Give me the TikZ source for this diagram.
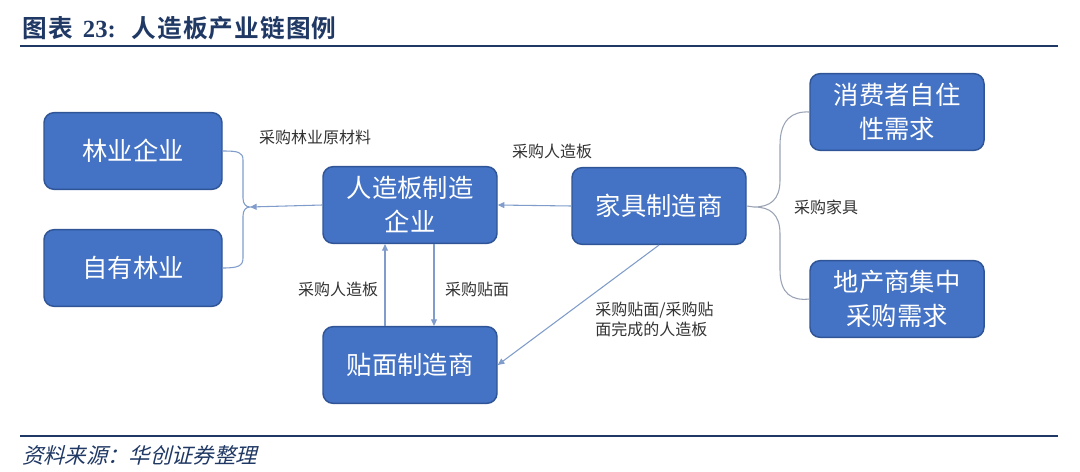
\documentclass[tikz,border=0pt]{standalone}
\usepackage{fontspec}
\setmainfont{Liberation Serif}
\newfontfamily\cjk{Noto Sans CJK SC}
\newfontfamily\cjkbold{Noto Sans CJK SC Bold}
\newfontfamily\cjknote[FakeSlant=0.25]{Noto Sans CJK SC}
\usetikzlibrary{arrows.meta}
\definecolor{boxblue}{HTML}{4472C4}
\definecolor{boxline}{HTML}{2F5597}
\definecolor{navy}{HTML}{1F3864}
\definecolor{arrowblue}{HTML}{7F9CCB}
\definecolor{bracegray}{HTML}{9AA3B5}

\begin{document}
\begin{tikzpicture}[x=0.75pt, y=-0.75pt,
  box/.style = {draw=boxline, line width=1.1pt, fill=boxblue, rounded corners=7.5pt, minimum width=130.5pt, minimum height=57.5pt, align=center, text=white, font=\cjk\fontsize{19}{25.5}\selectfont},
  lbl/.style = {text=black!80, font=\cjk\fontsize{12}{14.5}\selectfont, inner sep=0pt},
  arr/.style = {draw=arrowblue, line width=0.8pt, -{Triangle[length=5pt,width=4.5pt]}}]
	\useasboundingbox (0,0) rectangle (1080,471);
	% title and rules
	\node[anchor=west, inner sep=0pt, text=navy] (title) at (22,28) {\cjkbold\fontsize{18.5}{20}\selectfont 图\hspace{1.5pt}表\hspace{7pt}{\rmfamily\bfseries 23:}\hspace{12pt}人\hspace{0.8pt}造\hspace{0.8pt}板\hspace{0.8pt}产\hspace{0.8pt}业\hspace{0.8pt}链\hspace{0.8pt}图\hspace{0.8pt}例};
	\draw[navy, line width=2.2pt] (20,46) -- (1058,46);
	\draw[navy, line width=1.8pt] (20,436) -- (1058,436);
	\node[anchor=west, inner sep=0pt, text=navy] (source) at (22,455) {\cjknote\fontsize{16}{18}\selectfont 资料来源：华创证券整理};
	% boxes
	\node[box, minimum width=133.5pt] (forest) at (133,151) {林业企业};
	\node[box, minimum width=133.5pt] (ownforest) at (133,268) {自有林业};
	\node[box] (board) at (410,205) {人造板制造\\企业};
	\node[box] (furniture) at (659,206) {家具制造商};
	\node[box] (consumer) at (897,112) {消费者自住\\性需求};
	\node[box] (developer) at (897,299) {地产商集中\\采购需求};
	\node[box] (veneer) at (410,365) {贴面制造商};
	\coordinate (ltip) at (250,207);
	\coordinate (rtip) at (754,207);
	% connectors
	\draw[arrowblue, line width=0.8pt] (forest.east) .. controls (238,151) and (243,152) .. (243,160) -- (243,198) .. controls (243,204) and (246,207) .. (ltip) .. controls (246,207) and (243,210) .. (243,216) -- (243,258) .. controls (243,266) and (238,268) .. (ownforest.east);
	\draw[arr] (board.west) -- (ltip);
	\draw[arr] (furniture.west) -- (board.east);
	\draw[arr] ([xshift=-18.75pt]veneer.north) -- ([xshift=-18.75pt]board.south);
	\draw[arr] ([xshift=18pt]board.south) -- ([xshift=18pt]veneer.north);
	\draw[arr] (furniture.south) -- (veneer.east);
	\draw[bracegray, line width=0.8pt] (furniture.east) -- (rtip);
	\draw[bracegray, line width=0.8pt] (consumer.west) .. controls (792,111) and (780,120) .. (780,145) -- (780,180) .. controls (780,200) and (770,207) .. (rtip) .. controls (770,207) and (780,214) .. (780,234) -- (780,270) .. controls (780,294) and (792,301) .. (developer.west);
	% labels
	\node[lbl] (l1) at (315,137) {采购林业原材料};
	\node[lbl] (l2) at (552,151) {采购人造板};
	\node[lbl] (l3) at (338,289) {采购人造板};
	\node[lbl] (l4) at (477,289) {采购贴面};
	\node[lbl, anchor=north west, align=left] (l5) at (595,302) {采购贴面/采购贴\\面完成的人造板};
	\node[lbl] (l6) at (826,207) {采购家具};
\end{tikzpicture}
\end{document}
